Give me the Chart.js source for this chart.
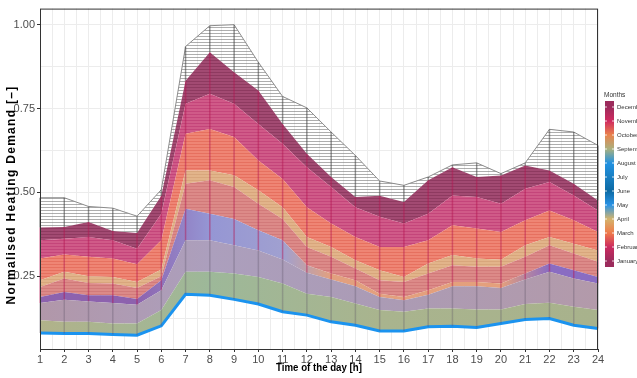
<!DOCTYPE html>
<html>
<head>
<meta charset="utf-8">
<script src="https://cdn.jsdelivr.net/npm/chart.js@4.4.1/dist/chart.umd.min.js"></script>
<style>
  html, body { margin: 0; padding: 0; background: #fff; }
  #chart { display: block; }
</style>
</head>
<body>
<canvas id="chart" width="637" height="378"></canvas>
<script>
// HOURS OF THE DAY
const hours = [1, 2, 3, 4, 5, 6, 7, 8, 9, 10, 11, 12, 13, 14, 15, 16, 17, 18, 19, 20, 21, 22, 23, 24];

// BAND EDGES (bottom to top)
const summerMin  = [0.081, 0.079, 0.079, 0.076, 0.074, 0.102, 0.196, 0.193, 0.181, 0.167, 0.144, 0.134, 0.114, 0.104, 0.087, 0.087, 0.099, 0.101, 0.097, 0.109, 0.121, 0.124, 0.104, 0.094];
const greenTop   = [0.119, 0.114, 0.114, 0.109, 0.109, 0.149, 0.263, 0.263, 0.258, 0.248, 0.228, 0.198, 0.188, 0.169, 0.149, 0.144, 0.154, 0.154, 0.151, 0.151, 0.167, 0.171, 0.159, 0.149];
const mauveTop   = [0.170, 0.180, 0.175, 0.170, 0.165, 0.208, 0.357, 0.357, 0.342, 0.327, 0.300, 0.260, 0.240, 0.220, 0.188, 0.178, 0.195, 0.220, 0.220, 0.215, 0.240, 0.263, 0.243, 0.228];
const purpleTop  = [0.188, 0.203, 0.193, 0.193, 0.182, 0.238, 0.451, 0.436, 0.421, 0.387, 0.357, 0.283, 0.258, 0.238, 0.198, 0.188, 0.208, 0.233, 0.233, 0.228, 0.258, 0.288, 0.268, 0.248];
const pinkTop    = [0.218, 0.243, 0.230, 0.228, 0.215, 0.250, 0.526, 0.536, 0.516, 0.466, 0.421, 0.337, 0.308, 0.273, 0.238, 0.233, 0.258, 0.283, 0.278, 0.278, 0.308, 0.342, 0.318, 0.293];
const tanTop     = [0.238, 0.263, 0.250, 0.248, 0.233, 0.270, 0.565, 0.565, 0.551, 0.506, 0.456, 0.367, 0.337, 0.298, 0.268, 0.248, 0.288, 0.313, 0.303, 0.299, 0.342, 0.367, 0.347, 0.327];
const salmonTop  = [0.303, 0.315, 0.308, 0.303, 0.286, 0.357, 0.675, 0.689, 0.665, 0.595, 0.540, 0.456, 0.407, 0.367, 0.337, 0.337, 0.357, 0.402, 0.392, 0.382, 0.417, 0.446, 0.417, 0.382];
const crimsonTop = [0.357, 0.362, 0.367, 0.357, 0.332, 0.436, 0.764, 0.794, 0.764, 0.704, 0.645, 0.575, 0.516, 0.456, 0.427, 0.407, 0.436, 0.491, 0.486, 0.466, 0.511, 0.531, 0.491, 0.446];
const maroonTop  = [0.395, 0.397, 0.412, 0.385, 0.379, 0.490, 0.833, 0.918, 0.858, 0.804, 0.704, 0.615, 0.546, 0.486, 0.490, 0.471, 0.536, 0.575, 0.546, 0.550, 0.580, 0.565, 0.526, 0.476];
const greyTop    = [0.484, 0.484, 0.458, 0.453, 0.429, 0.508, 0.935, 0.997, 1.000, 0.888, 0.786, 0.752, 0.680, 0.610, 0.534, 0.521, 0.546, 0.582, 0.588, 0.556, 0.588, 0.688, 0.680, 0.640];

// LEGEND
const months = ['January', 'February', 'March', 'April', 'May', 'June', 'July', 'August', 'September', 'October', 'November', 'December'];
const monthColours = ['#9c2b5c', '#cb2a5f', '#ef7a4a', '#d4b46c', '#2a93e6', '#0c6aa4', '#1a7fc2', '#2292e2', '#a9b07e', '#e9834c', '#d02a5f', '#9c2b5c'];

const canvas = document.getElementById('chart');
const ctx = canvas.getContext('2d');
const FONT = '"Liberation Sans", Arial, sans-serif';

// HATCH PATTERNS (many thin day lines)
function hatch(base, line) {
	const c = document.createElement('canvas');
	c.width = 4;
	c.height = 3;
	const g = c.getContext('2d');
	g.fillStyle = base;
	g.fillRect(0, 0, 4, 3);
	g.fillStyle = line;
	g.fillRect(0, 0, 4, 1);
	return ctx.createPattern(c, 'repeat');
}

function points(arr) {
	return hours.map((h, i) => ({ x: h, y: arr[i] }));
}

function band(arr, fillStyle) {
	return {
		data: points(arr),
		fill: '-1',
		backgroundColor: fillStyle,
		borderWidth: 0,
		pointRadius: 0,
		tension: 0
	};
}

// band whose colour drifts along the day
function hourGradient(stops) {
	return function (context) {
		const chart = context.chart;
		if (!chart.chartArea) return stops[0][1];
		const x = chart.scales.x;
		const g = chart.ctx.createLinearGradient(x.left, 0, x.right, 0);
		stops.forEach(s => g.addColorStop((s[0] - 1) / 23, s[1]));
		return g;
	};
}

// VERTICAL STREAKS AT EACH HOUR
const streaks = {
	id: 'streaks',
	afterDatasetsDraw(chart) {
		const x = chart.scales.x, y = chart.scales.y, c = chart.ctx;
		c.save();
		c.lineWidth = 1.5;
		hours.forEach((h, i) => {
			const px = x.getPixelForValue(h);
			const segs = [
				[summerMin[i], mauveTop[i], 'rgba(90,80,100,0.3)'],
				[mauveTop[i], maroonTop[i], 'rgba(180,20,80,0.45)'],
				[maroonTop[i], greyTop[i], 'rgba(60,60,60,0.5)']
			];
			segs.forEach(s => {
				c.strokeStyle = s[2];
				c.beginPath();
				c.moveTo(px, y.getPixelForValue(s[0]));
				c.lineTo(px, y.getPixelForValue(s[1]));
				c.stroke();
			});
		});
		c.restore();
	}
};

// PANEL BORDER, AXIS TITLES AND COLOUR BAR
const decorations = {
	id: 'decorations',
	afterDraw(chart) {
		const a = chart.chartArea, c = chart.ctx;
		c.save();
		c.strokeStyle = '#333333';
		c.lineWidth = 1;
		c.strokeRect(a.left + 0.5, a.top + 0.5, a.right - a.left - 1, a.bottom - a.top);

		c.fillStyle = '#000';
		c.font = 'bold 11px ' + FONT;
		c.textAlign = 'center';
		c.textBaseline = 'middle';
		c.save();
		c.translate((a.left + a.right) / 2, 368);
		c.scale(0.88, 1);
		c.fillText('Time of the day [h]', 0, 0);
		c.restore();

		c.save();
		c.font = 'bold 12px ' + FONT;
		c.letterSpacing = '1.3px';
		c.translate(12, 195);
		c.rotate(-Math.PI / 2);
		c.fillText('Normalised Heating Demand [\u2013]', 0, 0);
		c.restore();
		c.restore();

		// colour bar
		const bx = 605, bw = 9, top = 101, bottom = 267;
		const step = (bottom - top - 12) / 11;
		const grad = c.createLinearGradient(0, bottom, 0, top);
		grad.addColorStop(0, monthColours[0]);
		monthColours.forEach((col, i) => {
			grad.addColorStop((6 + i * step) / (bottom - top), col);
		});
		grad.addColorStop(1, monthColours[11]);
		c.save();
		c.fillStyle = grad;
		c.fillRect(bx, top, bw, bottom - top);
		c.fillStyle = '#333';
		c.font = '6.5px ' + FONT;
		c.textAlign = 'left';
		c.textBaseline = 'middle';
		c.fillText('Months', 604, 95);
		c.font = '6px ' + FONT;
		c.strokeStyle = '#fff';
		c.lineWidth = 0.8;
		months.forEach((m, i) => {
			const ly = bottom - 6 - i * step;
			c.fillText(m, bx + bw + 3, ly);
			c.beginPath();
			c.moveTo(bx, ly); c.lineTo(bx + 2, ly);
			c.moveTo(bx + bw - 2, ly); c.lineTo(bx + bw, ly);
			c.stroke();
		});
		c.restore();
	}
};

new Chart(ctx, {
	type: 'line',
	data: {
		datasets: [
			{ data: points(summerMin), fill: false, borderColor: '#1b93ef', borderWidth: 3, pointRadius: 0, tension: 0 },
			band(greenTop, hourGradient([[1, '#b1b28a'], [8, '#9db899'], [15, '#a9b48e'], [24, '#a8b28c']])),
			band(mauveTop, hourGradient([[1, '#b197a9'], [8, '#ac9fbd'], [15, '#ab9bb5'], [24, '#b39aaa']])),
			band(purpleTop, hourGradient([[1, '#8d62ae'], [5, '#8d62ae'], [8, '#9596d4'], [11, '#a0a0d0'], [13, '#e2a07f'], [20, '#e4a07c'], [22, '#8a6cc2'], [24, '#8a6cc2']])),
			band(pinkTop, hatch('#dc8a88', '#d27a7a')),
			band(tanTop, hatch('#e2b48a', '#d8a67c')),
			band(salmonTop, hatch('#ef8574', '#e6705f')),
			band(crimsonTop, hatch('#d05a88', '#c4457a')),
			band(maroonTop, hatch('#a24a72', '#8e3a60')),
			{
				data: points(greyTop),
				fill: '-1',
				backgroundColor: hatch('rgba(255,255,255,0)', 'rgba(120,120,120,0.6)'),
				borderColor: '#8c8c8c',
				borderWidth: 1,
				pointRadius: 0,
				tension: 0
			}
		]
	},
	options: {
		responsive: false,
		devicePixelRatio: 1,
		animation: false,
		layout: { padding: { left: 0, right: 39, top: 8, bottom: 0 } },
		plugins: { legend: { display: false }, tooltip: { enabled: false } },
		scales: {
			x: {
				type: 'linear',
				min: 1,
				max: 24,
				afterFit(scale) { scale.height = 29; },
				border: { display: false },
				grid: {
					color: '#ececec',
					lineWidth: 1,
					tickLength: 3,
					tickColor: c => Number.isInteger(c.tick.value) ? '#333' : 'rgba(0,0,0,0)'
				},
				ticks: {
					stepSize: 0.5,
					autoSkip: false,
					maxRotation: 0,
					padding: 1,
					color: '#4d4d4d',
					font: { family: FONT, size: 11 },
					callback: v => Number.isInteger(v) ? String(v) : ''
				}
			},
			y: {
				min: 0.033,
				max: 1.048,
				afterFit(scale) { scale.width = 40; },
				border: { display: false },
				grid: {
					color: '#ececec',
					lineWidth: 1,
					tickLength: 3,
					tickColor: c => Math.abs(c.tick.value * 4 - Math.round(c.tick.value * 4)) < 1e-6 ? '#333' : 'rgba(0,0,0,0)'
				},
				ticks: {
					stepSize: 0.125,
					includeBounds: false,
					padding: 2,
					color: '#4d4d4d',
					font: { family: FONT, size: 11 },
					callback: v => Math.abs(v * 4 - Math.round(v * 4)) < 1e-6 ? v.toFixed(2) : ''
				}
			}
		}
	},
	plugins: [streaks, decorations]
});
</script>
</body>
</html>
